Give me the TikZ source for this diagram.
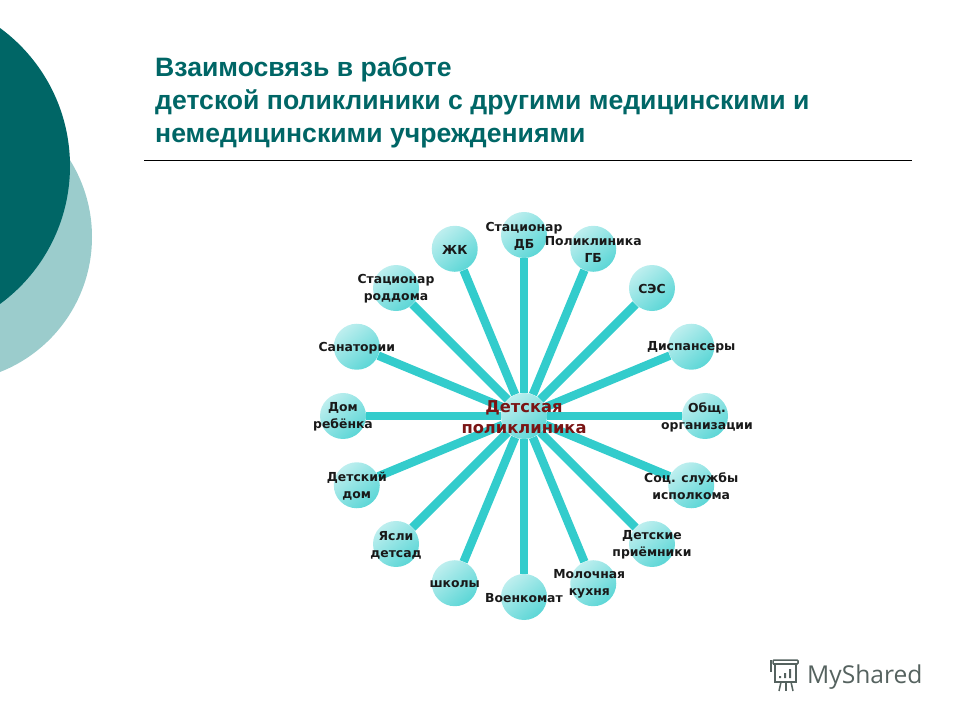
\documentclass[tikz,border=0pt]{standalone}
\usepackage{fontspec}
\setmainfont{Liberation Sans}
\newfontfamily\leaffont{DejaVu Sans}
\newfontfamily\logofont{Open Sans}
\usetikzlibrary{backgrounds}
\definecolor{darkteal}{HTML}{006666}
\definecolor{paleteal}{HTML}{9BCCCC}
\definecolor{spokecol}{HTML}{33CCCC}
\definecolor{hubred}{HTML}{7A1414}
\definecolor{logogray}{HTML}{55625F}
\tikzset{
  leaf/.style={circle,minimum size=46pt,inner sep=0pt,top color=spokecol!32,bottom color=spokecol!80,shading angle=40},
  every label/.style={align=center,yshift=-1pt,font=\leaffont\bfseries\fontsize{12.4pt}{17pt}\selectfont,text=black!90},
  spoke/.style={line width=8.5pt,spokecol},
  headline/.style={align=left,anchor=north west,inner sep=0pt,text=darkteal,font=\bfseries\fontsize{26.6pt}{33pt}\selectfont},
  icon/.style={logogray,line width=1.5pt}
}
\begin{document}
\begin{tikzpicture}[x=1pt,y=1pt]
  \useasboundingbox (0,0) rectangle (960,720);
  \begin{scope}
    \clip (0,0) rectangle (960,720);
    \fill[paleteal] (-53,483) circle (145);
    \fill[darkteal] (-101,554) circle (171);
  \end{scope}
  \node[headline] (title) at (155,663) {Взаимосвязь в работе\\детской поликлиники с другими медицинскими и\\немедицинскими учреждениями};
  \coordinate (ruleA) at (144,560);
  \coordinate (ruleB) at (912,560);
  \draw[black,line width=0.8pt] (ruleA) -- (ruleB);
  \begin{scope}[shift={(524,304)}]
    \node[leaf,label={[text=hubred,font=\leaffont\bfseries\fontsize{16.3pt}{20.5pt}\selectfont]center:Детская\\поликлиника}] (hub) at (0,0) {};
    \draw
      (90.0:181) node[leaf,label={center:Стационар\\ДБ}] (db) {}
      (67.5:181) node[leaf,label={center:Поликлиника\\ГБ}] (gb) {}
      (45.0:181) node[leaf,label={center:СЭС}] (ses) {}
      (22.5:181) node[leaf,label={center:Диспансеры}] (disp) {}
      (0.0:181) node[leaf,label={[xshift=2pt]center:Общ.\\организации}] (org) {}
      (-22.5:181) node[leaf,label={center:Соц. службы\\исполкома}] (soc) {}
      (-45.0:181) node[leaf,label={center:Детские\\приёмники}] (prm) {}
      (-67.5:181) node[leaf,label={[xshift=-4pt]center:Молочная\\кухня}] (milk) {}
      (-90.0:181) node[leaf,label={center:Военкомат}] (army) {}
      (-112.5:181) node[leaf,label={center:школы}] (school) {}
      (-135.0:181) node[leaf,label={center:Ясли\\детсад}] (nursery) {}
      (-157.5:181) node[leaf,label={center:Детский\\дом}] (orph) {}
      (180.0:181) node[leaf,label={center:Дом\\ребёнка}] (baby) {}
      (157.5:181) node[leaf,label={center:Санатории}] (san) {}
      (135.0:181) node[leaf,label={center:Стационар\\роддома}] (mat) {}
      (112.5:181) node[leaf,label={center:ЖК}] (zhk) {};
    \begin{scope}[on background layer]
      \draw[spoke] (hub) to (db);
      \draw[spoke] (hub) to (gb);
      \draw[spoke] (hub) to (ses);
      \draw[spoke] (hub) to (disp);
      \draw[spoke] (hub) to (org);
      \draw[spoke] (hub) to (soc);
      \draw[spoke] (hub) to (prm);
      \draw[spoke] (hub) to (milk);
      \draw[spoke] (hub) to (army);
      \draw[spoke] (hub) to (school);
      \draw[spoke] (hub) to (nursery);
      \draw[spoke] (hub) to (orph);
      \draw[spoke] (hub) to (baby);
      \draw[spoke] (hub) to (san);
      \draw[spoke] (hub) to (mat);
      \draw[spoke] (hub) to (zhk);
    \end{scope}
  \end{scope}
  % logo
  \node[anchor=west,inner sep=0pt,text=logogray,font=\logofont\fontsize{24.6pt}{25pt}\selectfont] (logo) at (807,43) {MyShared};
  \draw[icon,rounded corners=1pt] (773,56) -- (773,60) -- (798,60) -- (798,56) -- (773,56);
  \draw[icon] (775,56) rectangle (796,38);
  \draw[icon] (771,60) -- (771,48);
  \draw[icon] (781,38) -- (779,29);
  \draw[icon] (786,38) -- (786,29);
  \draw[icon] (791,38) -- (793,29);
  \fill[logogray] (779,42) rectangle (781,44) (784,42) rectangle (786,47) (789,42) rectangle (791,51);
\end{tikzpicture}
\end{document}
